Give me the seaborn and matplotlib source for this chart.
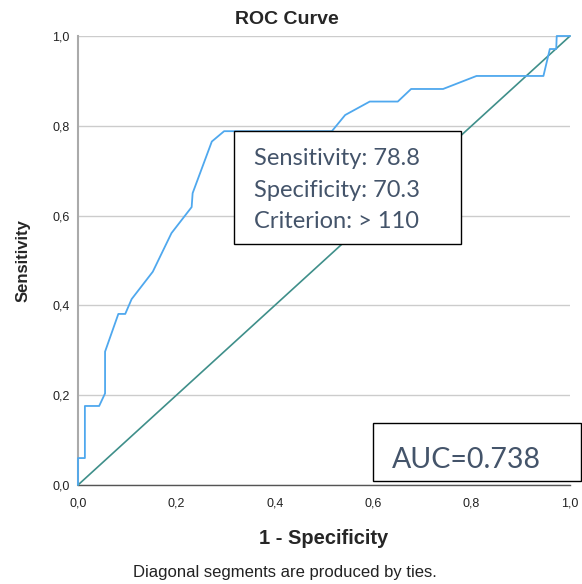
import matplotlib
matplotlib.use("Agg")
import matplotlib.pyplot as plt
from matplotlib.patches import Rectangle
import seaborn as sns
import pandas as pd

# ROC curve coordinates (1 - specificity, sensitivity)
fpr = [0.0, 0.0, 0.014, 0.014, 0.043, 0.055, 0.055, 0.082, 0.096, 0.109,
       0.152, 0.190, 0.231, 0.233, 0.272, 0.297, 0.516, 0.543, 0.593, 0.650,
       0.677, 0.742, 0.810, 0.946, 0.959, 0.972, 0.973, 1.0]
tpr = [0.0, 0.060, 0.060, 0.176, 0.176, 0.204, 0.297, 0.381, 0.381, 0.414,
       0.475, 0.561, 0.619, 0.650, 0.765, 0.788, 0.788, 0.824, 0.854, 0.854,
       0.882, 0.882, 0.911, 0.911, 0.971, 0.971, 1.0, 1.0]
ref_x = [0.0, 1.0]
ref_y = [0.0, 1.0]

ticks = [0.0, 0.2, 0.4, 0.6, 0.8, 1.0]
tick_labels = ["0,0", "0,2", "0,4", "0,6", "0,8", "1,0"]

sensitivity = 78.8
specificity = 70.3
criterion = "> 110"
auc = 0.738

sns.set_style("white")
plt.rcParams["font.family"] = ["Liberation Sans", "DejaVu Sans"]

fig = plt.figure(figsize=(5.82, 5.84), dpi=100)
ax = fig.add_axes([78 / 582, 99 / 584, 492 / 582, 449 / 584])

curve = pd.DataFrame({"fpr": fpr, "tpr": tpr})
ref = pd.DataFrame({"x": ref_x, "y": ref_y})

sns.lineplot(data=ref, x="x", y="y", sort=False, estimator=None, ax=ax,
             color="#3f8f8a", linewidth=1.2, zorder=3)
sns.lineplot(data=curve, x="fpr", y="tpr", sort=False, estimator=None, ax=ax,
             color="#4fa8ee", linewidth=1.3, zorder=4)
for line in ax.get_lines():
    line.set_clip_on(False)

ax.set_xlim(0, 1)
ax.set_ylim(0, 1)
ax.set_xticks(ticks)
ax.set_xticklabels(tick_labels)
ax.set_yticks(ticks)
ax.set_yticklabels(tick_labels)
ax.tick_params(axis="both", length=0, labelsize=9, colors="#222222")
ax.tick_params(axis="x", pad=9)
ax.tick_params(axis="y", pad=6)
ax.yaxis.grid(True, color="#cccccc", linewidth=1.0)
ax.xaxis.grid(False)
ax.set_axisbelow(True)

for side in ["top", "right"]:
    ax.spines[side].set_visible(False)
ax.spines["left"].set_color("#aaaaaa")
ax.spines["left"].set_linewidth(1.5)
ax.spines["bottom"].set_color("#555555")
ax.spines["bottom"].set_linewidth(1.0)

ax.set_xlabel("1 - Specificity", fontsize=14.5, fontweight="bold", labelpad=14)
ax.set_ylabel("Sensitivity", fontsize=12, fontweight="bold", labelpad=16)

fig.text(287 / 582, 1 - 19 / 584, "ROC Curve", ha="center", va="center",
         fontsize=14, fontweight="bold")
fig.text(285 / 582, 1 - 573 / 584, "Diagonal segments are produced by ties.",
         ha="center", va="center", fontsize=12, color="#222222")

# Cut-off annotation box
box_font = ["Lato", "DejaVu Sans"]
ax.add_patch(Rectangle((0.317, 0.537), 0.461, 0.251, transform=ax.transData,
                       facecolor="white", edgecolor="black", linewidth=1.0,
                       zorder=6, clip_on=False))
lines = [f"Sensitivity: {sensitivity}", f"Specificity: {specificity}",
         f"Criterion: {criterion}"]
for i, txt in enumerate(lines):
    ax.text(0.358, 0.727 - i * 0.0705, txt, ha="left", va="center",
            fontsize=17, color="#44546a", family=box_font, zorder=7)

# AUC box
ax.add_patch(Rectangle((0.600, 0.010), 0.423, 0.128, transform=ax.transData,
                       facecolor="white", edgecolor="black", linewidth=1.0,
                       zorder=6, clip_on=False))
ax.text(0.638, 0.056, f"AUC={auc}", ha="left", va="center",
        fontsize=20.5, color="#44546a", family=box_font, zorder=7, clip_on=False)

fig.savefig("out.png", dpi=100)
